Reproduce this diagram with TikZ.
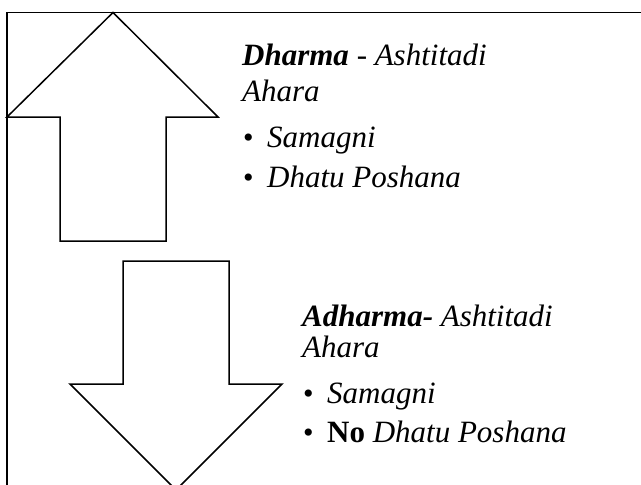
\documentclass[tikz,border=0pt]{standalone}
\usepackage{fontspec}
\setmainfont{Liberation Serif}
\begin{document}
\begin{tikzpicture}[x=1pt,y=-1pt,
  shape line/.style={draw=black,line width=1.5pt,line join=miter},
  txt/.style={anchor=base west,inner sep=0pt,font=\fontsize{31}{36}\selectfont},
  bul/.style={anchor=base west,inner sep=0pt,font=\fontsize{30}{36}\selectfont}]
\useasboundingbox (0,0) rectangle (641,485);
% frame
\draw[line width=1.5pt] (641,12.5) -- (7,12.5) -- (7,485);
% up arrow
\draw[shape line,fill=white] (113,12.5) -- (218,117) -- (166,117) -- (166,241) -- (60,241) -- (60,117) -- (7,117) -- cycle;
% down arrow
\begin{scope}
\clip (0,0) rectangle (641,485);
\draw[shape line,fill=white] (123,261) -- (229,261) -- (229,384) -- (282,384) -- (176,490) -- (70,384) -- (123,384) -- cycle;
\end{scope}
% texts block 1
\node[txt] (d1) at (242,65) {\textbf{\textit{Dharma}} \textit{- Ashtitadi}};
\node[txt] (d2) at (242,101) {\textit{Ahara}};
\node[bul] (b1) at (243,147) {•};
\node[txt] (d3) at (267,147) {\textit{Samagni}};
\node[bul] (b2) at (243,187) {•};
\node[txt] (d4) at (267,187) {\textit{Dhatu Poshana}};
% texts block 2
\node[txt] (a1) at (302,326) {\textbf{\textit{Adharma-}} \textit{Ashtitadi}};
\node[txt] (a2) at (302,357) {\textit{Ahara}};
\node[bul] (b3) at (303,403) {•};
\node[txt] (a3) at (327,403) {\textit{Samagni}};
\node[bul] (b4) at (303,442) {•};
\node[txt] (a4) at (327,442) {\textbf{No} \textit{Dhatu Poshana}};
\end{tikzpicture}
\end{document}
